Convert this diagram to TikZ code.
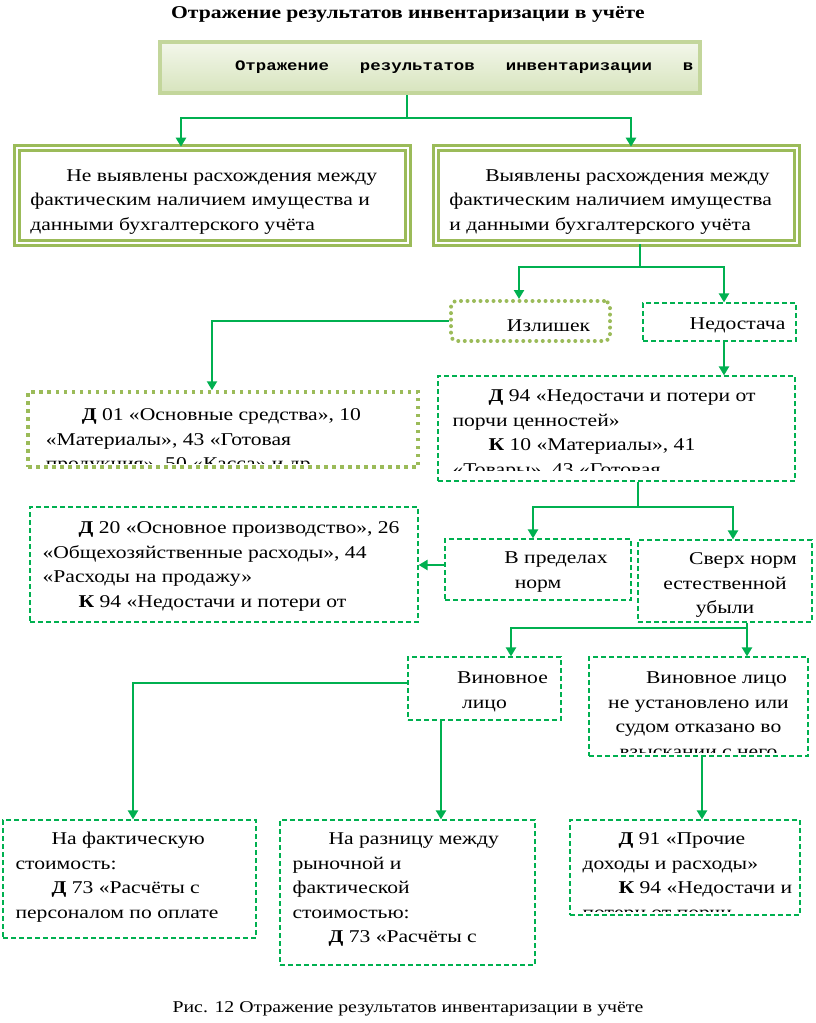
\documentclass[tikz,border=0pt]{standalone}
\usepackage{fontspec}
\setmainfont[FakeStretch=1.2]{Liberation Serif}
\setmonofont[FakeStretch=1.2]{Liberation Mono}
\usetikzlibrary{arrows.meta,positioning}

\definecolor{linkgreen}{HTML}{00B050}
\definecolor{olivegreen}{HTML}{9BBB59}
\definecolor{palegreen}{HTML}{D7E4BD}
\definecolor{rimgreen}{HTML}{C3D69B}

\newcommand\bodyfont{\fontsize{18}{24.5}\selectfont}
\newcommand\ind{\rule{0pt}{14pt}\hspace*{36pt}}
\newcommand\kind{\hspace*{36pt}}

\begin{document}
\begin{tikzpicture}[x=1pt, y=-1pt,
  every node/.style={inner sep=0pt},
  tdx/.store in=\txtdx, tdx=12pt,
  tdy/.store in=\txtdy, tdy=11pt,
  cb/.store in=\clipb, cb=4pt,
  link/.style={draw=linkgreen, line width=2.7pt},
  arr/.style={link, -{Triangle[length=9pt,width=10pt]}},
  topbox/.style={draw=rimgreen, line width=4pt, top color=palegreen!30, bottom color=palegreen},
  dblbox/.style={draw=olivegreen, line width=2.6pt, double=white, double distance=2.5pt},
  dashbox/.style={draw=linkgreen, line width=1.2pt, dash pattern=on 5pt off 3pt},
  dotbox/.style={draw=olivegreen, line width=3.5pt, dash pattern=on 3.5pt off 4.5pt},
  roundbox/.style={draw=olivegreen, line width=4pt, line cap=round, dash pattern=on 0pt off 6.5pt, rounded corners=6pt},
  inner/.style={minimum width=0pt, minimum height=0pt, font=\bodyfont},
  lefttxt/.style={path picture={
    \clip ([xshift=2pt, yshift=\clipb]path picture bounding box.south west) rectangle (path picture bounding box.north east);
    \node[inner, anchor=north west, align=left]
      at ([xshift=\txtdx, yshift=-\txtdy]path picture bounding box.north west) {#1};}},
  midtxt/.style={path picture={
    \clip ([xshift=2pt, yshift=\clipb]path picture bounding box.south west) rectangle (path picture bounding box.north east);
    \node[inner, anchor=north, align=center]
      at ([yshift=-\txtdy]path picture bounding box.north) {#1};}}
]
\useasboundingbox (0,0) rectangle (816,1023);

% header
\node[font=\bfseries\fontsize{18}{20}\selectfont] (title) at (408,14) {Отражение результатов инвентаризации в учёте};
\node[topbox, minimum width=540pt, minimum height=51pt, text width=527pt, align=right,
  font=\ttfamily\bfseries\fontsize{14.5}{16}\selectfont] (top) at (430,67.5)
  {Отражение\hspace{31pt}результатов\hspace{31pt}инвентаризации\hspace{31pt}в};

% first level
\node[dblbox, minimum width=391pt, minimum height=95pt, tdy=18pt, lefttxt={\ind Не выявлены расхождения между\\
  фактическим наличием имущества и\\
  данными бухгалтерского учёта}] (nofind) at (212.5,195.5) {};
\node[dblbox, minimum width=361pt, minimum height=95pt, tdy=18pt, lefttxt={\ind Выявлены расхождения между\\
  фактическим наличием имущества\\
  и данными бухгалтерского учёта}] (found) at (616.5,195.5) {};

% surplus and shortage
\node[roundbox, minimum width=159pt, minimum height=40pt, tdy=14pt, midtxt={\ind Излишек}] (surplus) at (530.5,321) {};
\node[dashbox, minimum width=153pt, minimum height=38pt, tdy=12pt, midtxt={\ind Недостача}] (shortage) at (719.5,322) {};
\node[dotbox, minimum width=390pt, minimum height=75pt, tdx=16pt, tdy=13pt, lefttxt={\ind\textbf{Д} 01 «Основные средства», 10\\
  «Материалы», 43 «Готовая\\
  продукция», 50 «Касса» и др.}] (acc01) at (223,429.5) {};
\node[dashbox, minimum width=357pt, minimum height=105pt, tdx=14pt, cb=11pt, lefttxt={\ind\textbf{Д} 94 «Недостачи и потери от\\
  порчи ценностей»\\
  \kind\textbf{К} 10 «Материалы», 41\\
  «Товары», 43 «Готовая}] (acc94) at (616.5,428.5) {};

% norms
\node[dashbox, minimum width=388pt, minimum height=115pt, tdy=12pt, lefttxt={\ind\textbf{Д} 20 «Основное производство», 26\\
  «Общехозяйственные расходы», 44\\
  «Расходы на продажу»\\
  \kind\textbf{К} 94 «Недостачи и потери от}] (acc20) at (224,564.5) {};
\node[dashbox, minimum width=186pt, minimum height=61pt, tdy=10pt, midtxt={\ind В пределах\\норм}] (within) at (538,569.5) {};
\node[dashbox, minimum width=174pt, minimum height=82pt, tdy=10pt, cb=2pt, midtxt={\ind Сверх норм\\естественной\\убыли}] (above) at (725,581) {};

% culprit
\node[dashbox, minimum width=153pt, minimum height=63pt, tdy=12pt, midtxt={\ind Виновное\\лицо}] (guilty) at (484.5,688.5) {};
\node[dashbox, minimum width=219pt, minimum height=99pt, tdy=12pt, midtxt={\ind Виновное лицо\\не установлено или\\судом отказано во\\взыскании с него}] (noguilty) at (698.5,706.5) {};

% bottom row
\node[dashbox, minimum width=253pt, minimum height=118pt, tdy=10pt, lefttxt={\ind На фактическую\\
  стоимость:\\
  \kind\textbf{Д} 73 «Расчёты с\\
  персоналом по оплате}] (actual) at (129.5,879) {};
\node[dashbox, minimum width=255pt, minimum height=145pt, tdy=10pt, lefttxt={\ind На разницу между\\
  рыночной и\\
  фактической\\
  стоимостью:\\
  \kind\textbf{Д} 73 «Расчёты с}] (market) at (407.5,892.5) {};
\node[dashbox, minimum width=230pt, minimum height=95pt, tdy=10pt, lefttxt={\ind\textbf{Д} 91 «Прочие\\
  доходы и расходы»\\
  \kind\textbf{К} 94 «Недостачи и\\
  потери от порчи}] (acc91) at (685,867.5) {};

\node[font=\fontsize{16.5}{18}\selectfont] (caption) at (408,1009) {Рис. 12 Отражение результатов инвентаризации в учёте};

% junctions
\coordinate (j1) at (407,118);
\coordinate (j2) at (640,267);
\coordinate (j3) at (638,507);
\coordinate (j4) at (747,628);
\coordinate (k1) at (133,683);
\coordinate (x181) at (181,0);
\coordinate (x631) at (631,0);
\coordinate (x519) at (519,0);
\coordinate (x724) at (724,0);
\coordinate (x212) at (212,0);
\coordinate (x533) at (533,0);
\coordinate (x733) at (733,0);
\coordinate (x511) at (511,0);
\coordinate (x441) at (441,0);
\coordinate (x702) at (702,0);
\coordinate (y565) at (0,565);

% connectors
\draw[link] (j1 |- top.south) -- (j1);
\draw[arr] (j1) -| (x181 |- nofind.north);
\draw[arr] (j1) -| (x631 |- found.north);
\draw[link] (j2 |- found.south) -- (j2);
\draw[arr] (j2) -| (x519 |- surplus.north);
\draw[arr] (j2) -| (x724 |- shortage.north);
\draw[arr] (surplus.west) -| (x212 |- acc01.north);
\draw[arr] (x724 |- shortage.south) -- (x724 |- acc94.north);
\draw[link] (j3 |- acc94.south) -- (j3);
\draw[arr] (j3) -| (x533 |- within.north);
\draw[arr] (j3) -| (x733 |- above.north);
\draw[arr] (within.west |- y565) -- (acc20.east |- y565);
\draw[link] (j4 |- above.south) -- (j4);
\draw[arr] (j4) -| (x511 |- guilty.north);
\draw[arr] (j4) -- (j4 |- noguilty.north);
\draw[arr] (guilty.west |- k1) -| (k1 |- actual.north);
\draw[arr] (x441 |- guilty.south) -- (x441 |- market.north);
\draw[arr] (x702 |- noguilty.south) -- (x702 |- acc91.north);
\end{tikzpicture}
\end{document}
